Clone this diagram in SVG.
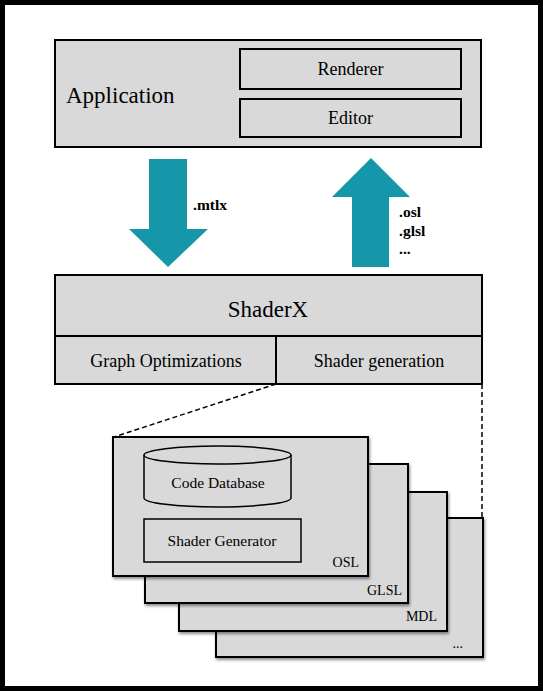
<svg xmlns="http://www.w3.org/2000/svg" width="543" height="691" viewBox="0 0 543 691">
<style>
.box{fill:#d9d9d9;stroke:#000;stroke-width:2}
.card{fill:#d9d9d9;stroke:#000;stroke-width:2;filter:url(#sh)}
.t{font-family:"Liberation Serif","Times New Roman",serif;fill:#000}
.arrow{fill:#1597a9}
.dash{fill:none;stroke:#000;stroke-width:1.5;stroke-dasharray:5 3}
</style>
<defs>
<filter id="sh" x="-10%" y="-10%" width="130%" height="130%">
<feDropShadow dx="1" dy="2" stdDeviation="1.5" flood-color="#000" flood-opacity="0.45"/>
</filter>
</defs>
<rect x="0" y="0" width="543" height="691" fill="#fff"/>
<rect x="2.5" y="2.5" width="538" height="686" fill="none" stroke="#000" stroke-width="5"/>

<g id="application">
<rect class="box" x="55" y="40" width="426" height="107"/>
<text class="t" x="66" y="103" font-size="23">Application</text>
</g>
<g id="renderer">
<rect class="box" x="240" y="49" width="221" height="40"/>
<text class="t" x="350.5" y="75" font-size="18" text-anchor="middle">Renderer</text>
</g>
<g id="editor">
<rect class="box" x="240" y="99" width="221" height="38"/>
<text class="t" x="350.5" y="124" font-size="18" text-anchor="middle">Editor</text>
</g>

<g id="arrows">
<polygon class="arrow" points="149,159 187,159 187,229 208,229 168,267 129,229 149,229"/>
<text class="t" x="193" y="210" font-size="15.5" font-weight="bold">.mtlx</text>
<polygon class="arrow" points="371,158 410,197 389,197 389,267 352,267 352,197 332,197"/>
<text class="t" x="399" y="217" font-size="15.5" font-weight="bold">.osl</text>
<text class="t" x="399" y="236" font-size="15.5" font-weight="bold">.glsl</text>
<text class="t" x="399" y="254" font-size="15.5" font-weight="bold">...</text>
</g>

<g id="shaderx">
<rect class="box" x="55" y="275" width="427" height="61"/>
<text class="t" x="268" y="317" font-size="23" text-anchor="middle">ShaderX</text>
</g>
<g id="graph-optimizations">
<rect class="box" x="55" y="336" width="221" height="48"/>
<text class="t" x="166" y="367" font-size="18" text-anchor="middle">Graph Optimizations</text>
</g>
<g id="shader-generation">
<rect class="box" x="276" y="336" width="206" height="48"/>
<text class="t" x="379" y="367" font-size="18" text-anchor="middle">Shader generation</text>
</g>

<g id="connectors">
<line class="dash" x1="276" y1="384" x2="114" y2="437"/>
<line class="dash" x1="482" y1="384" x2="482" y2="518"/>
</g>

<g id="card-more">
<rect class="card" x="216" y="518" width="267" height="139"/>
<text class="t" x="463" y="648" font-size="14" text-anchor="end">...</text>
</g>
<g id="card-mdl">
<rect class="card" x="179" y="492" width="268" height="139"/>
<text class="t" x="437" y="621" font-size="14" text-anchor="end">MDL</text>
</g>
<g id="card-glsl">
<rect class="card" x="145" y="464" width="263" height="139"/>
<text class="t" x="402" y="595" font-size="14" text-anchor="end">GLSL</text>
</g>
<g id="card-osl">
<rect class="card" x="113" y="437" width="255" height="139"/>
<text class="t" x="359" y="567" font-size="14" text-anchor="end">OSL</text>
</g>
<g id="code-database">
<path d="M144,455 L144,498 A73.5,9 0 0 0 291,498 L291,455" fill="#d9d9d9" stroke="#000" stroke-width="1.5"/>
<ellipse cx="217.5" cy="455" rx="73.5" ry="9" fill="#d9d9d9" stroke="#000" stroke-width="1.5"/>
<text class="t" x="218" y="488" font-size="15.5" text-anchor="middle">Code Database</text>
</g>
<g id="shader-generator">
<rect x="144" y="519" width="157" height="43" fill="#d9d9d9" stroke="#000" stroke-width="1.5"/>
<text class="t" x="222" y="546" font-size="15.5" text-anchor="middle">Shader Generator</text>
</g>
</svg>
